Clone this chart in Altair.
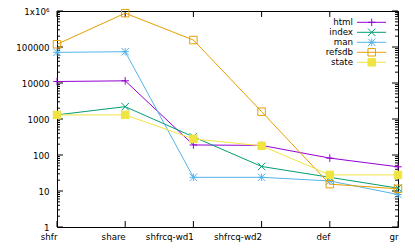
import altair as alt
import pandas as pd

categories = ["shfr", "share", "shfrcq-wd1", "shfrcq-wd2", "def", "gr"]
series = ["html", "index", "man", "refsdb", "state"]
html = [11000, 11500, 190, 185, 82, 47]
index_vals = [1300, 2200, 320, 48, 24, 12]
man = [71000, 74000, 24, 24, 19, 8]
refsdb = [119000, 870000, 156000, 1600, 15.5, 11.5]
state = [1300, 1300, 280, 180, 28, 28]
colors = ["#9400d3", "#009e73", "#56b4e9", "#e69f00", "#f0e442"]
fills = ["transparent", "transparent", "transparent", "transparent", "#f0e442"]
decades = [1, 10, 100, 1000, 10000, 100000, 1000000]
minor = [m * d for d in decades[:-1] for m in range(2, 10)]

plus = "M-1,0L1,0M0,-1L0,1"
xs = "M-1,-1L1,1M-1,1L1,-1"
star = "M-1,0L1,0M0,-1L0,1M-1,-1L1,1M-1,1L1,-1"
shapes = [plus, xs, star, "square", "square"]

vals = [html, index_vals, man, refsdb, state]
rows = []
for s, v in zip(series, vals):
    for c, y in zip(categories, v):
        rows.append({"series": s, "cat": c, "v": y})
df = pd.DataFrame(rows)

W, H = 341, 216
FONT = "DejaVu Sans"
FS = 8.7

xscale = alt.Scale(type="point", domain=categories, padding=0)
yscale = alt.Scale(type="log", domain=[1, 1000000], nice=False)
cscale = alt.Scale(domain=series, range=colors)
sscale = alt.Scale(domain=series, range=shapes)
fscale = alt.Scale(domain=series, range=fills)

x_enc = alt.X("cat:N", scale=xscale, sort=categories,
              axis=alt.Axis(ticks=False, domain=False, grid=False, labelAngle=0,
                            labelPadding=9, title=None, labelOverlap=False,
                            labelFont=FONT, labelFontSize=FS, labelColor="black"))
y_enc = alt.Y("v:Q", scale=yscale,
              axis=alt.Axis(values=decades, ticks=False, domain=False, grid=False,
                            labelPadding=8, title=None, labelOverlap=False,
                            labelFont=FONT, labelFontSize=FS, labelColor="black",
                            labelExpr="datum.value >= 1000000 ? '1x10\u2076' : format(datum.value, 'd')"))

lines = alt.Chart(df).mark_line(strokeWidth=1).encode(
    x=x_enc, y=y_enc,
    color=alt.Color("series:N", scale=cscale, legend=None),
)
points = alt.Chart(df).mark_point(size=56, strokeWidth=1, opacity=1, fillOpacity=1).encode(
    x=alt.X("cat:N", scale=xscale, sort=categories),
    y=alt.Y("v:Q", scale=yscale),
    stroke=alt.Stroke("series:N", scale=cscale, legend=None),
    fill=alt.Fill("series:N", scale=fscale, legend=None),
    shape=alt.Shape("series:N", scale=sscale, legend=None),
)

major_df = pd.DataFrame({"v": decades})
minor_df = pd.DataFrame({"v": minor})
cat_df = pd.DataFrame({"cat": categories})

def ytick(data, x0, x1):
    return alt.Chart(data).mark_rule(color="black", strokeWidth=1).encode(
        y=alt.Y("v:Q", scale=yscale), x=alt.value(x0), x2=alt.value(x1))

def xtick(y0, y1):
    return alt.Chart(cat_df).mark_rule(color="black", strokeWidth=1).encode(
        x=alt.X("cat:N", scale=xscale, sort=categories), y=alt.value(y0), y2=alt.value(y1))

ticks = [
    ytick(major_df, 0, 6), ytick(major_df, W, W - 6),
    ytick(minor_df, 0, 3), ytick(minor_df, W, W - 3),
    xtick(H, H - 6), xtick(0, 6),
]

main = alt.layer(*ticks, lines, points)

leg_df = pd.DataFrame({"series": series})
ly = alt.Y("series:N", scale=alt.Scale(type="point", domain=series, range=[11.3, 51.3], padding=0), axis=None)
leg_text = alt.Chart(leg_df).mark_text(align="right", baseline="middle", font=FONT,
                                       fontSize=FS, color="black").encode(
    x=alt.value(296), y=ly, text="series:N")
leg_line = alt.Chart(leg_df).mark_rule(strokeWidth=1).encode(
    x=alt.value(300), x2=alt.value(329), y=ly,
    color=alt.Color("series:N", scale=cscale, legend=None))
leg_pt = alt.Chart(leg_df).mark_point(size=56, strokeWidth=1, opacity=1, fillOpacity=1).encode(
    x=alt.value(314.7), y=ly,
    stroke=alt.Stroke("series:N", scale=cscale, legend=None),
    fill=alt.Fill("series:N", scale=fscale, legend=None),
    shape=alt.Shape("series:N", scale=sscale, legend=None))
legend = alt.layer(leg_text, leg_line, leg_pt)

chart = alt.layer(main, legend).resolve_scale(y="independent").properties(
    width=W, height=H,
    autosize=alt.AutoSizeParams(type="none"),
    padding={"left": 49, "top": 3, "right": 8, "bottom": 20},
).configure_view(stroke="black", strokeWidth=1)

chart.save("out.html", embed_options={"renderer": "svg", "actions": False})
